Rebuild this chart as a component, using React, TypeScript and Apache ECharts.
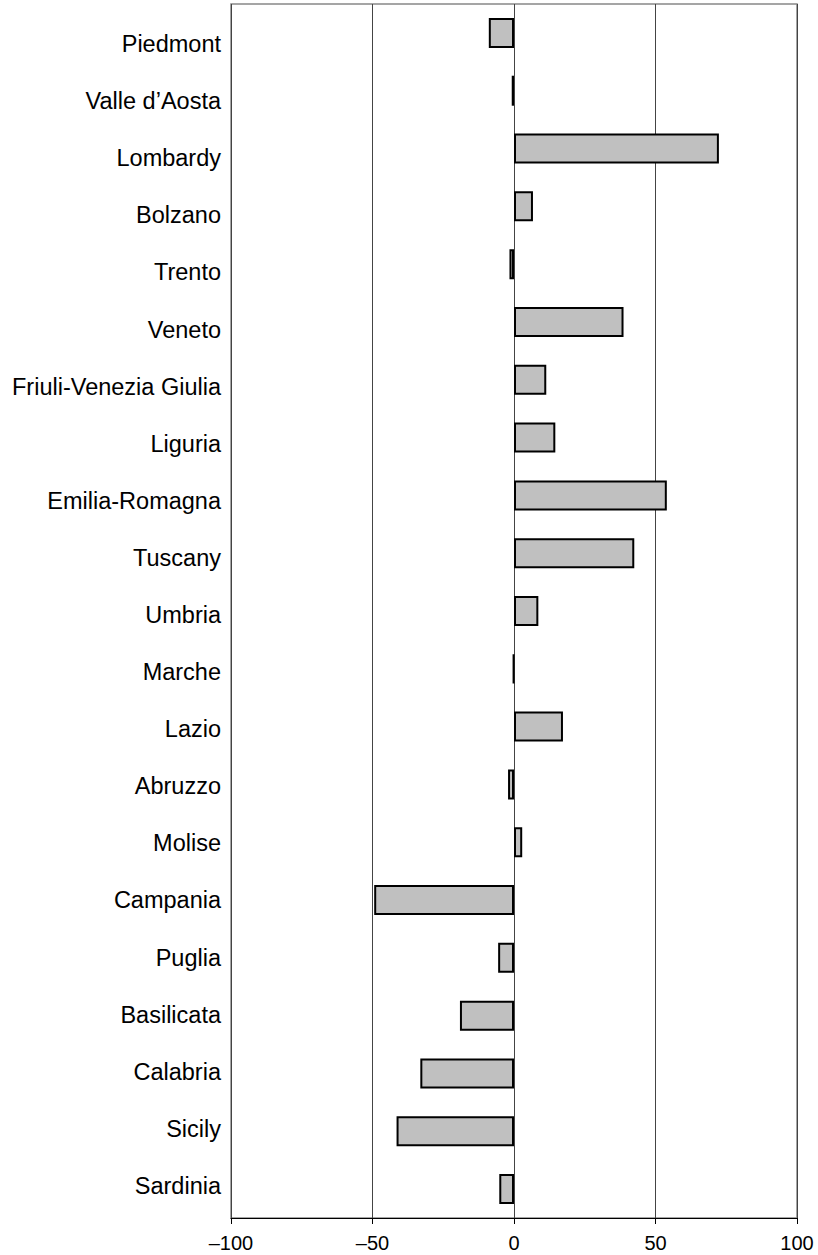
import React, { useEffect, useRef } from "react";
import * as echarts from "echarts";

const regions = [
  "Piedmont", "Valle d\u2019Aosta", "Lombardy", "Bolzano", "Trento", "Veneto",
  "Friuli-Venezia Giulia", "Liguria", "Emilia-Romagna", "Tuscany", "Umbria",
  "Marche", "Lazio", "Abruzzo", "Molise", "Campania", "Puglia", "Basilicata",
  "Calabria", "Sicily", "Sardinia",
];
const values = [
  -8.9, -0.8, 72.4, 6.7, -1.6, 38.7, 11.4, 14.6, 54.0, 42.5, 8.6,
  -0.3, 17.3, -2.1, 2.9, -49.4, -5.6, -19.1, -33.1, -41.5, -5.2,
];
const xMin = -100;
const xMax = 100;
const xStep = 50;

const FONT = "Arial, 'Liberation Sans', sans-serif";

export default function App() {
  const ref = useRef<HTMLDivElement>(null);
  useEffect(() => {
    if (!ref.current) return;
    const chart = echarts.init(ref.current, null, { renderer: "svg" });
    chart.setOption({
      animation: false,
      backgroundColor: "#fff",
      grid: [
        { left: 231, right: 21, top: 4, bottom: 37, show: true, borderColor: "#888", borderWidth: 1.5, containLabel: false, z: 0 },
        { left: 231, right: 21, top: 15.5, bottom: 40.5, containLabel: false },
      ],
      xAxis: [
        {
          type: "value", gridIndex: 0, min: xMin, max: xMax, interval: xStep,
          axisLine: { show: true, onZero: false, lineStyle: { color: "#000", width: 1 } },
          axisTick: { show: true, length: 6, lineStyle: { color: "#000" } },
          axisLabel: {
            color: "#000", fontFamily: FONT, fontSize: 20, margin: 15,
            formatter: (v: number) => String(v).replace("-", "\u2013"),
          },
          splitLine: { show: true, lineStyle: { color: "#444", width: 1 } },
        },
        { type: "value", gridIndex: 1, min: xMin, max: xMax, show: false },
      ],
      yAxis: [
        {
          type: "category", gridIndex: 0, data: regions, inverse: true,
          axisLine: { show: false }, axisTick: { show: false }, axisLabel: { show: false },
          splitLine: { show: false },
        },
        {
          type: "category", gridIndex: 1, data: regions, inverse: true,
          axisLine: { show: false }, axisTick: { show: false },
          axisLabel: { show: true, color: "#000", fontFamily: FONT, fontSize: 23.5, margin: 10 },
          splitLine: { show: false },
        },
      ],
      series: [
        {
          type: "bar", xAxisIndex: 0, yAxisIndex: 0, data: values, barWidth: 30,
          itemStyle: { color: "#c0c0c0", borderColor: "#000", borderWidth: 2 },
        },
      ],
    });
    return () => chart.dispose();
  }, []);
  return (
    <div
      ref={ref}
      style={{ position: "absolute", left: 0, top: 0, width: 818, height: 1255 }}
    />
  );
}
